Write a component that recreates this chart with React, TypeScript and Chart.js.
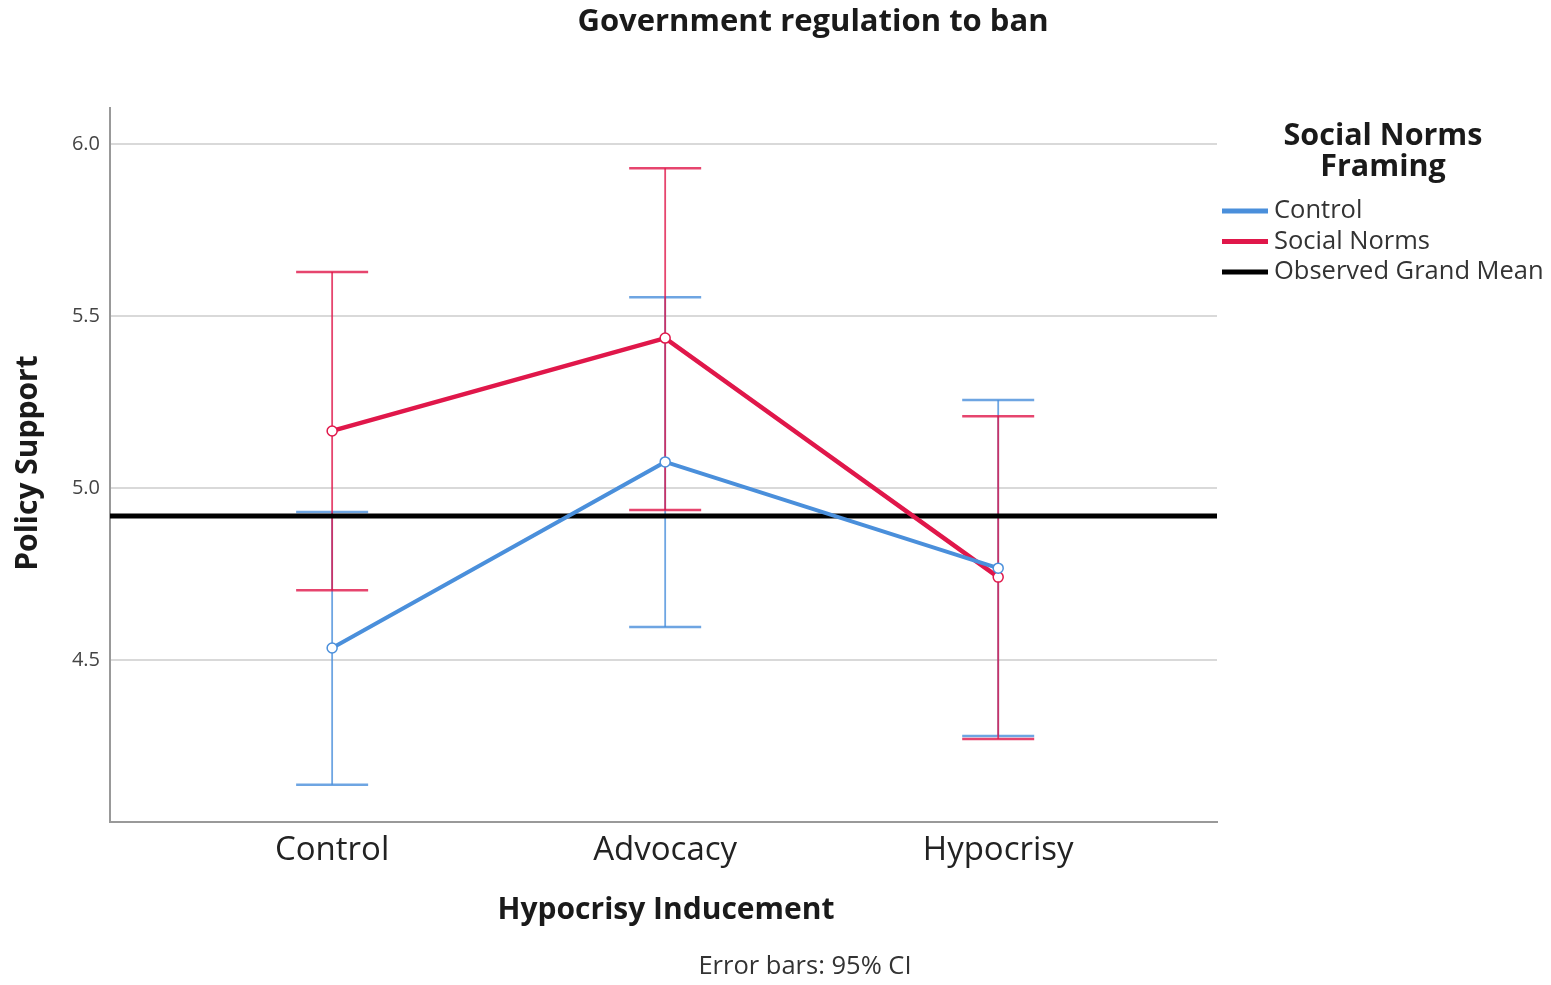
import React, { useEffect, useRef } from "react";
import { Chart, registerables } from "chart.js";

Chart.register(...registerables);

const categories = ["Control", "Advocacy", "Hypocrisy"];
const controlMeans = [4.535, 5.076, 4.767];
const controlLower = [4.137, 4.596, 4.279];
const controlUpper = [4.93, 5.555, 5.256];
const normsMeans = [5.166, 5.436, 4.741];
const normsLower = [4.703, 4.936, 4.27];
const normsUpper = [5.628, 5.93, 5.209];
const grandMean = 4.919;
const yTicks = [4.5, 5.0, 5.5, 6.0];
const legendLabels = ["Control", "Social Norms", "Observed Grand Mean"];

const BLUE = "#4A8FDB";
const RED = "#E0174A";
const FONT = "'Open Sans', 'DejaVu Sans', sans-serif";

export default function App() {
  const ref = useRef<HTMLCanvasElement | null>(null);

  useEffect(() => {
    const canvas = ref.current;
    if (!canvas) return;

    const errorBars = {
      id: "errorBars",
      beforeDatasetsDraw(chart: any) {
        const ctx = chart.ctx;
        const xs = chart.scales.x;
        const ys = chart.scales.y;
        const draw = (lo: number[], hi: number[], color: string) => {
          for (let i = 0; i < lo.length; i++) {
            const px = xs.getPixelForValue(i);
            const y1 = ys.getPixelForValue(lo[i]);
            const y2 = ys.getPixelForValue(hi[i]);
            ctx.save();
            ctx.strokeStyle = color;
            ctx.globalAlpha = 0.8;
            ctx.lineWidth = 1.8;
            ctx.beginPath();
            ctx.moveTo(px, y1);
            ctx.lineTo(px, y2);
            ctx.stroke();
            ctx.lineWidth = 2.5;
            ctx.beginPath();
            ctx.moveTo(px - 36, y1);
            ctx.lineTo(px + 36, y1);
            ctx.moveTo(px - 36, y2);
            ctx.lineTo(px + 36, y2);
            ctx.stroke();
            ctx.restore();
          }
        };
        draw(controlLower, controlUpper, BLUE);
        draw(normsLower, normsUpper, RED);
        const gy = ys.getPixelForValue(grandMean);
        ctx.save();
        ctx.strokeStyle = "#000";
        ctx.lineWidth = 5;
        ctx.beginPath();
        ctx.moveTo(chart.chartArea.left, gy);
        ctx.lineTo(chart.chartArea.right, gy);
        ctx.stroke();
        ctx.restore();
      },
    };

    const texts = {
      id: "texts",
      afterDraw(chart: any) {
        const ctx = chart.ctx;
        ctx.save();
        ctx.fillStyle = "#1a1a1a";
        ctx.textBaseline = "middle";
        ctx.textAlign = "center";
        ctx.font = `bold 31px ${FONT}`;
        ctx.fillText("Government regulation to ban", 813, 22);
        ctx.font = `bold 30px ${FONT}`;
        ctx.fillText("Hypocrisy Inducement", 666, 910);
        ctx.font = `25.5px ${FONT}`;
        ctx.fillStyle = "#333";
        ctx.fillText("Error bars: 95% CI", 805, 967);
        ctx.fillStyle = "#1a1a1a";
        ctx.font = `bold 30px ${FONT}`;
        ctx.save();
        ctx.translate(28, 463);
        ctx.rotate(-Math.PI / 2);
        ctx.fillText("Policy Support", 0, 0);
        ctx.restore();
        ctx.font = `bold 30.5px ${FONT}`;
        ctx.fillText("Social Norms", 1383, 136);
        ctx.fillText("Framing", 1383, 167);
        const colors = [BLUE, RED, "#000"];
        ctx.textAlign = "left";
        ctx.font = `25.5px ${FONT}`;
        ctx.fillStyle = "#333";
        legendLabels.forEach((lab, i) => {
          const y = 211 + i * 30.5;
          ctx.strokeStyle = colors[i];
          ctx.lineWidth = 5;
          ctx.beginPath();
          ctx.moveTo(1222, y);
          ctx.lineTo(1268, y);
          ctx.stroke();
          ctx.fillText(lab, 1274, y);
        });
        ctx.restore();
      },
    };

    const chart = new Chart(canvas, {
      type: "line",
      data: {
        datasets: [
          {
            label: legendLabels[0],
            data: controlMeans.map((v, i) => ({ x: i, y: v })),
            borderColor: BLUE,
            borderWidth: 4,
            pointRadius: 5,
            pointBorderWidth: 1.5,
            pointBackgroundColor: "#fff",
            pointBorderColor: BLUE,
            tension: 0,
          },
          {
            label: legendLabels[1],
            data: normsMeans.map((v, i) => ({ x: i, y: v })),
            borderColor: RED,
            borderWidth: 4.5,
            pointRadius: 5,
            pointBorderWidth: 1.5,
            pointBackgroundColor: "#fff",
            pointBorderColor: RED,
            tension: 0,
          },
        ],
      },
      options: {
        animation: false,
        responsive: false,
        layout: { padding: { left: 0, top: 108, right: 334, bottom: 0 } },
        plugins: {
          legend: { display: false },
          title: { display: false },
          tooltip: { enabled: false },
        },
        scales: {
          x: {
            type: "linear",
            min: -0.667,
            max: 2.657,
            afterBuildTicks: (s: any) => {
              s.ticks = categories.map((_, i) => ({ value: i }));
            },
            afterFit: (s: any) => {
              s.height = 163;
            },
            ticks: {
              callback: (v: any) => categories[v as number] ?? "",
              font: { size: 33, family: FONT },
              color: "#222",
              padding: 9,
              maxRotation: 0,
              autoSkip: false,
            },
            grid: { display: false, drawTicks: false },
            border: { display: true, color: "#999", width: 2 },
          },
          y: {
            type: "linear",
            min: 4.029,
            max: 6.105,
            afterBuildTicks: (s: any) => {
              s.ticks = yTicks.map((v) => ({ value: v }));
            },
            afterFit: (s: any) => {
              s.width = 110;
            },
            ticks: {
              callback: (v: any) => Number(v).toFixed(1),
              font: { size: 20, family: FONT },
              color: "#444",
              padding: 10,
            },
            grid: { color: "#d9d9d9", lineWidth: 2, drawTicks: false },
            border: { display: true, color: "#999", width: 2 },
          },
        },
      },
      plugins: [errorBars, texts],
    });

    return () => chart.destroy();
  }, []);

  return (
    <div style={{ position: "fixed", left: 0, top: 0, width: 1551, height: 985, background: "#fff" }}>
      <canvas ref={ref} width={1551} height={985} style={{ width: 1551, height: 985, display: "block" }} />
    </div>
  );
}
